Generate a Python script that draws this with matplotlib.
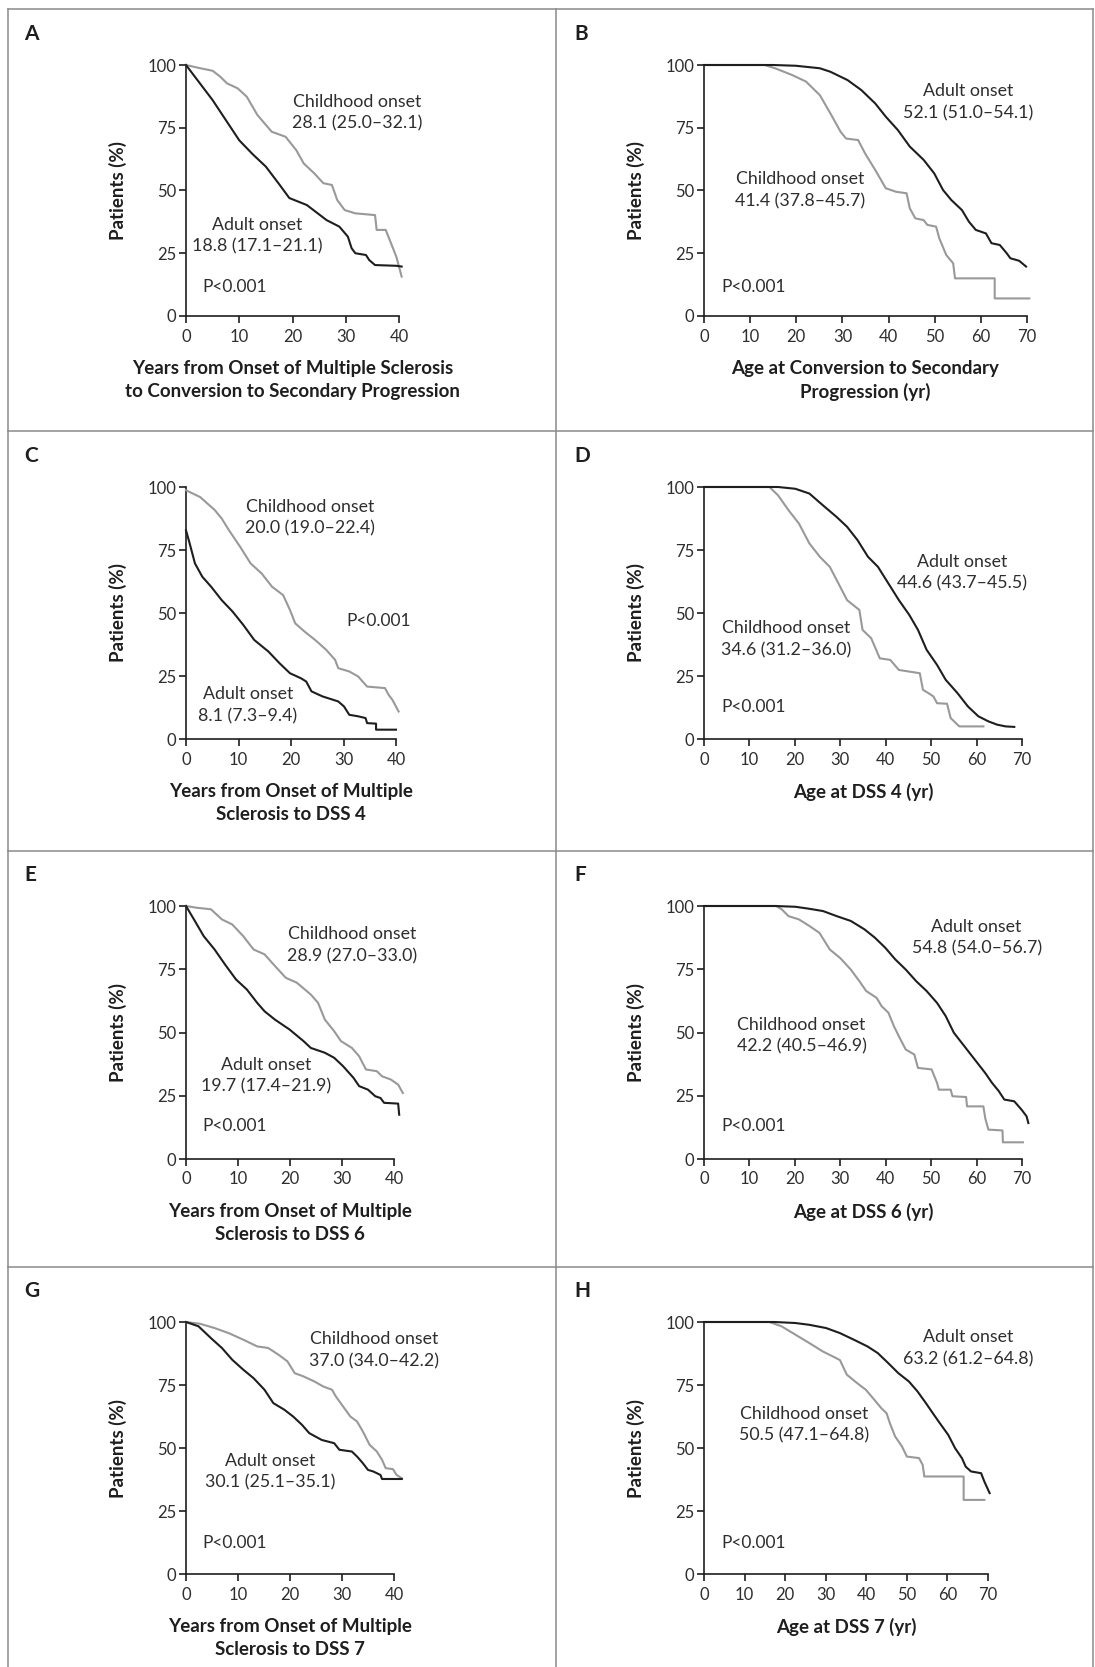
import matplotlib
matplotlib.use('Agg')
import matplotlib.pyplot as plt
from matplotlib.lines import Line2D

plt.rcParams['font.family'] = ['Lato', 'DejaVu Sans']

# ---- data (x in years, y in % of patients) ----
a_adult_x = [0, 2.5, 5, 7.5, 10, 12.5, 15, 17.5, 19.4, 22.7, 26.4, 28.8, 30.4, 31.1, 31.8, 33.8, 34.4, 35.5, 39.5, 40.5]
a_adult_y = [100, 93, 86, 78, 70, 64.5, 59.5, 52.5, 47, 44.2, 38.2, 35.6, 31.6, 27, 25, 24.3, 22.3, 20.3, 20, 19.7]
a_child_x = [0, 2.7, 5, 6.4, 7.7, 9.7, 11.4, 13.4, 16.1, 18.7, 20.7, 22.1, 24.1, 25.8, 27.4, 28.4, 29.8, 31.8, 35.5, 35.8, 37.5, 38.5, 39.5, 40.5]
a_child_y = [100, 98.7, 97.7, 95.4, 92.7, 90.7, 87.4, 80.1, 73.4, 71.4, 66.1, 60.8, 56.8, 52.9, 52.2, 46.2, 42.2, 40.9, 40.2, 34.3, 34.3, 29, 23.6, 15.7]

b_adult_x = [0, 15, 19.9, 25.1, 27.4, 31.1, 34.1, 37.1, 39.4, 42, 44.6, 47.6, 49.9, 51.8, 53.6, 55.9, 57.4, 58.9, 61.1, 62.3, 64.1, 65.6, 66.4, 68.3, 69.8]
b_adult_y = [100, 100, 99.7, 98.7, 97.3, 94, 90, 84.7, 79.4, 74.1, 67.5, 62.2, 56.8, 50.2, 46.2, 42.2, 37.6, 34.3, 32.9, 29, 28.3, 25, 23, 22, 19.7]
b_child_x = [0, 13.1, 15.4, 19.1, 22.1, 25.1, 27.4, 29.6, 30.8, 33.4, 34.9, 37.1, 39.4, 41.6, 43.9, 44.6, 45.8, 47.6, 48.4, 50.3, 51, 52.5, 54, 54.4, 63, 63, 70.5]
b_child_y = [100, 100, 98.7, 96, 93.4, 88, 80.7, 73.4, 70.7, 70.1, 64.8, 58.2, 50.9, 49.5, 48.9, 42.9, 38.9, 38.2, 36.3, 35.6, 30.9, 24.3, 21, 15, 15, 7, 7]

c_adult_x = [0, 0.7, 1.7, 3.1, 4.8, 6.8, 8.9, 10.9, 13, 15.7, 17.8, 19.8, 21.9, 22.9, 23.9, 26, 29, 30.1, 31.1, 32.8, 34.2, 34.5, 36.2, 36.2, 40]
c_adult_y = [82.8, 77.6, 69.7, 64.4, 60.4, 55.1, 50.5, 45.3, 39.3, 34.7, 30.1, 26.1, 24.1, 22.8, 18.9, 16.9, 14.9, 12.9, 9.6, 9, 8.3, 6.3, 6.1, 3.7, 3.7]
c_child_x = [0, 2.7, 5.5, 6.8, 8.2, 10.3, 12.3, 14.4, 16.4, 18.5, 19.8, 20.8, 22.6, 24.6, 26.7, 28.4, 29, 31.1, 32.8, 34.5, 37.9, 38.6, 39.3, 40.5]
c_child_y = [98.7, 96, 90.8, 87.5, 82.8, 76.3, 69.7, 65.7, 60.4, 57.1, 51.2, 45.9, 42.6, 39.3, 35.4, 31.4, 28.1, 26.8, 24.8, 20.8, 20.2, 17.5, 15.6, 10.9]

d_adult_x = [0, 16.3, 20.1, 23.2, 26.2, 29.2, 31.5, 33.8, 36.1, 38.3, 40.6, 42.9, 45.2, 47.1, 49, 51.3, 53.2, 55.8, 58.1, 60.4, 62.6, 64.5, 66.4, 68.3]
d_adult_y = [100, 100, 99.3, 97.4, 92.7, 88.1, 84.2, 78.9, 72.3, 68.3, 61.7, 55.1, 49.2, 43.3, 35.4, 29.4, 23.5, 18.2, 12.9, 9, 7, 5.7, 5, 4.8]
d_child_x = [0, 14.4, 16.3, 18.6, 20.9, 23.2, 25.5, 27.7, 29.6, 31.5, 34.2, 34.9, 36.8, 38.7, 41, 42.9, 47.5, 48.2, 49.4, 50.5, 51.3, 53.5, 54.3, 56.2, 61.5]
d_child_y = [100, 100, 96.7, 90.8, 85.5, 77.6, 72.3, 68.3, 61.7, 55.1, 51.2, 43.3, 40, 32, 31.4, 27.4, 26.1, 19.5, 18.2, 16.9, 14.2, 14, 8.3, 5, 5]

e_adult_x = [0, 1.7, 3.4, 5.5, 7.5, 9.6, 11.7, 13.7, 15.1, 17.1, 19.9, 22.6, 24, 26.7, 28.5, 30.2, 32.2, 33.3, 35, 36.4, 37.4, 38.1, 40.8, 41]
e_adult_y = [100, 94.1, 88.1, 82.8, 76.9, 71, 67, 61.7, 58.4, 55.1, 51.2, 46.6, 43.9, 42, 40, 36.7, 32.1, 28.8, 27.4, 24.8, 24.1, 22.2, 21.9, 17.5]
e_child_x = [0, 2.1, 4.8, 6.9, 8.9, 11, 13, 15.1, 17.1, 19.2, 21.3, 24, 25.4, 26.7, 28.5, 29.8, 31.9, 33.3, 34.6, 36.7, 37.7, 39.4, 40.8, 41.7]
e_child_y = [100, 99.3, 98.7, 94.7, 92.7, 88.1, 82.8, 80.9, 76.3, 71.6, 69.7, 65, 61.7, 55.1, 50.5, 46.6, 43.9, 40.6, 35.4, 34.7, 32.7, 31.4, 29.4, 26.1]

f_adult_x = [0, 15.6, 20.1, 23.2, 26.2, 29.2, 32.3, 35.3, 37.6, 39.9, 42.1, 44.4, 46.7, 49, 51.3, 53.2, 55, 57.3, 59.6, 61.9, 63.4, 64.9, 66.1, 68.3, 69.9, 71, 71.4]
f_adult_y = [100, 100, 99.7, 98.9, 98, 96, 94.1, 90.8, 87.5, 83.5, 78.9, 74.9, 70.3, 66.4, 61.7, 56.5, 49.9, 44.6, 39.3, 34, 30.1, 26.8, 23.5, 22.8, 19.5, 16.9, 14.2]
f_child_x = [0, 15.9, 17.1, 18.6, 20.9, 23.2, 25.4, 27.7, 30, 32.3, 34.2, 35.7, 38, 39.1, 40.6, 41.8, 42.9, 44.4, 46.3, 47.1, 50.1, 51.3, 51.7, 54.3, 54.7, 57.7, 57.9, 61.5, 61.9, 62.6, 65.7, 65.8, 70.2]
f_child_y = [100, 100, 98.7, 96, 94.7, 92.1, 89.4, 82.8, 79.4, 74.9, 70.3, 66.4, 63.7, 60.4, 57.8, 52.5, 48.5, 43.3, 41.3, 36, 35.4, 30.1, 27.4, 27.4, 24.8, 24.5, 20.8, 20.8, 16.2, 11.6, 11.3, 6.6, 6.6]

g_adult_x = [0, 2.4, 4.8, 6.9, 8.9, 11, 13, 15.1, 16.8, 18.9, 20.6, 22.3, 23.7, 26.1, 28.5, 29.5, 31.9, 32.9, 34, 35, 36, 37.4, 37.7, 41.5]
g_adult_y = [100, 98.3, 93.6, 89.7, 85, 81.1, 77.7, 73.1, 67.8, 65.2, 62.5, 59.2, 55.9, 53.2, 51.9, 49.3, 48.6, 46.6, 44, 41.3, 40.7, 39.3, 37.7, 37.7]
g_child_x = [0, 2.7, 5.5, 8.2, 11, 13.7, 15.8, 17.8, 19.5, 20.9, 22.6, 24.7, 26.4, 28.1, 28.8, 30.2, 31.6, 32.9, 34, 35.3, 36.7, 37.7, 38.4, 39.8, 40.5, 41.5]
g_child_y = [100, 99.3, 97.6, 95.6, 93, 90.3, 89.7, 87, 84.4, 79.7, 78.4, 76.4, 74.4, 73.1, 70.5, 66.5, 62.5, 60.5, 56.6, 51.3, 48.6, 45.3, 42, 41.6, 39.3, 38]

h_adult_x = [0, 17.4, 22.5, 25.9, 30.1, 33.5, 36.9, 40.3, 42.8, 45.4, 47.9, 50.5, 52.6, 54.7, 56.4, 58.1, 60.2, 61.9, 63.6, 64.5, 65.8, 68.3, 69.1, 70.4]
h_adult_y = [100, 100, 99.6, 98.9, 97.6, 95.6, 93, 90.3, 87.7, 83.7, 79.7, 76.4, 72.5, 67.8, 63.8, 59.9, 55.2, 49.9, 45.9, 42.6, 40.7, 40, 36.7, 32.1]
h_child_x = [0, 16.1, 19.1, 22.5, 25.9, 29.3, 31.8, 33.5, 35.2, 37.7, 39.9, 42, 43.7, 45, 45.8, 47.1, 48.8, 50, 53, 53.9, 54.3, 64, 64, 69.1]
h_child_y = [100, 100, 98.3, 95, 91.7, 88.3, 86.3, 84.9, 79.1, 75.8, 73.1, 69.1, 65.8, 63.8, 59.9, 54.6, 50.6, 46.6, 46, 43.3, 38.7, 38.7, 29.4, 29.4]

# median (95% CI) labels
medians = {
    'A': ('28.1 (25.0\u201332.1)', '18.8 (17.1\u201321.1)'),
    'B': ('41.4 (37.8\u201345.7)', '52.1 (51.0\u201354.1)'),
    'C': ('20.0 (19.0\u201322.4)', '8.1 (7.3\u20139.4)'),
    'D': ('34.6 (31.2\u201336.0)', '44.6 (43.7\u201345.5)'),
    'E': ('28.9 (27.0\u201333.0)', '19.7 (17.4\u201321.9)'),
    'F': ('42.2 (40.5\u201346.9)', '54.8 (54.0\u201356.7)'),
    'G': ('37.0 (34.0\u201342.2)', '30.1 (25.1\u201335.1)'),
    'H': ('50.5 (47.1\u201364.8)', '63.2 (61.2\u201364.8)'),
}

xlabels = {
    'A': 'Years from Onset of Multiple Sclerosis\nto Conversion to Secondary Progression',
    'B': 'Age at Conversion to Secondary\nProgression (yr)',
    'C': 'Years from Onset of Multiple\nSclerosis to DSS 4',
    'D': 'Age at DSS 4 (yr)',
    'E': 'Years from Onset of Multiple\nSclerosis to DSS 6',
    'F': 'Age at DSS 6 (yr)',
    'G': 'Years from Onset of Multiple\nSclerosis to DSS 7',
    'H': 'Age at DSS 7 (yr)',
}

W, H = 1095, 1667
fig = plt.figure(figsize=(W / 100, H / 100), dpi=100)
fig.patch.set_facecolor('white')

BLACK = '#1e1e1e'
GRAY = '#999999'
TXT = '#2e2e2e'

# panel frame lines
for yy in [9, 431, 851, 1267]:
    fig.add_artist(Line2D([8 / W, 1093 / W], [1 - yy / H, 1 - yy / H], color='#8a8a8a', lw=1.1))
for xx in [8, 556, 1093]:
    fig.add_artist(Line2D([xx / W, xx / W], [0, 1 - 9 / H], color='#8a8a8a', lw=1.1))


def panel(letter, box, xmax, adult, child, child_pos, adult_pos, p_pos):
    x0, x1, yt, yb = box
    ax = fig.add_axes([x0 / W, 1 - yb / H, (x1 - x0) / W, (yb - yt) / H])
    ax.plot(child[0], child[1], color=GRAY, lw=1.5, clip_on=False, zorder=3)
    ax.plot(adult[0], adult[1], color=BLACK, lw=1.5, clip_on=False, zorder=4)
    ax.set_xlim(0, xmax)
    ax.set_ylim(0, 100)
    ax.set_xticks(range(0, xmax + 1, 10))
    ax.set_yticks([0, 25, 50, 75, 100])
    for s in ['top', 'right']:
        ax.spines[s].set_visible(False)
    for s in ['left', 'bottom']:
        ax.spines[s].set_linewidth(1.2)
        ax.spines[s].set_color(BLACK)
    ax.tick_params(direction='out', length=5, width=1.2, color=BLACK,
                   labelsize=12, labelcolor=TXT)
    ax.tick_params(axis='x', pad=4)
    ax.tick_params(axis='y', pad=2)
    ax.patch.set_visible(False)

    ch, ad = medians[letter]
    ax.text(child_pos[0], child_pos[1], 'Childhood onset\n' + ch, ha='center', va='center',
            fontsize=12.8, color=TXT, linespacing=1.45, clip_on=False)
    ax.text(adult_pos[0], adult_pos[1], 'Adult onset\n' + ad, ha='center', va='center',
            fontsize=12.8, color=TXT, linespacing=1.45, clip_on=False)
    ax.text(p_pos[0], p_pos[1], 'P<0.001', ha='left', va='center', fontsize=12.5, color=TXT)

    # panel letter, y label and x label in figure pixels
    px = 24 if x0 < 500 else 574
    fig.text(px / W, 1 - (yt - 31) / H, letter, fontsize=15, weight='bold', color=BLACK,
             ha='left', va='center')
    fig.text((x0 - 68) / W, 1 - (yt + yb) / 2 / H, 'Patients (%)', rotation=90, fontsize=13.5,
             weight='bold', color=BLACK, ha='center', va='center')
    fig.text((x0 + x1) / 2 / W, 1 - (yb + 44) / H, xlabels[letter], fontsize=13.5, weight='bold',
             color=BLACK, ha='center', va='top', linespacing=1.4)
    return ax


panel('A', (186, 399, 65, 316), 40, (a_adult_x, a_adult_y), (a_child_x, a_child_y),
      (32.2, 81), (13.4, 32), (3.0, 11.7))
panel('B', (704, 1027, 65, 316), 70, (b_adult_x, b_adult_y), (b_child_x, b_child_y),
      (20.9, 50), (57.3, 85.2), (3.75, 11.7))
panel('C', (186, 396, 487, 739), 40, (c_adult_x, c_adult_y), (c_child_x, c_child_y),
      (23.6, 87.8), (11.8, 13.4), (30.6, 47))
panel('D', (704, 1022, 487, 739), 70, (d_adult_x, d_adult_y), (d_child_x, d_child_y),
      (18, 39.5), (56.8, 66), (3.8, 12.7))
panel('E', (186, 394, 906, 1159), 40, (e_adult_x, e_adult_y), (e_child_x, e_child_y),
      (31.9, 84.6), (15.4, 32.9), (3.1, 12.9))
panel('F', (704, 1022, 906, 1159), 70, (f_adult_x, f_adult_y), (f_child_x, f_child_y),
      (21.5, 48.7), (60, 87.4), (3.8, 12.9))
panel('G', (186, 394, 1322, 1574), 40, (g_adult_x, g_adult_y), (g_child_x, g_child_y),
      (36.2, 88.7), (16.1, 40.6), (3.1, 12.2))
panel('H', (704, 988, 1322, 1574), 70, (h_adult_x, h_adult_y), (h_child_x, h_child_y),
      (24.6, 59.3), (65.1, 89.5), (4.2, 12.2))

fig.savefig('out.png', dpi=100)
